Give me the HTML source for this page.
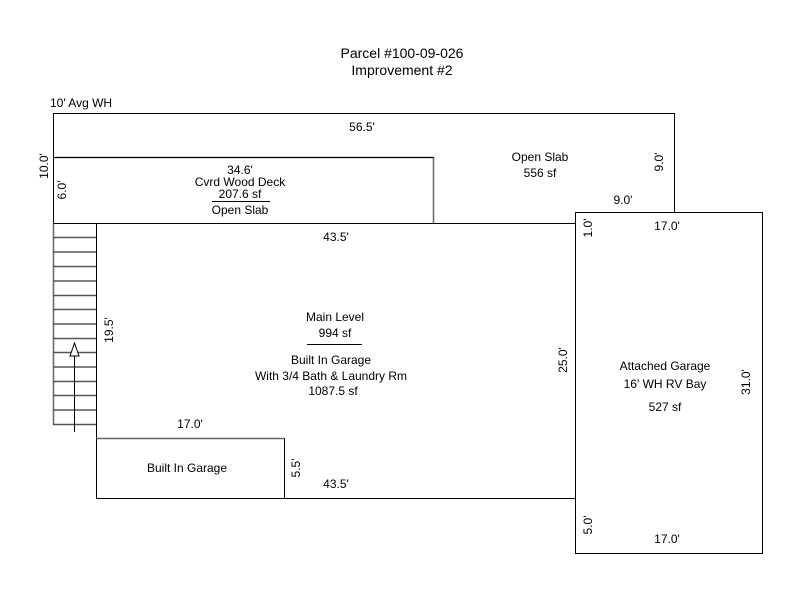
<!DOCTYPE html>
<html><head><style>body{margin:0;background:#fff}svg{display:block}text{font-family:"Liberation Sans",Arial,sans-serif;font-size:12px;fill:#000}</style></head><body>
<svg width="800" height="600" xmlns="http://www.w3.org/2000/svg">
<g fill="none" stroke="#000" stroke-width="1">
<path d="M53.5 223.5V113.5H674.5V212.5"/>
<path d="M53.5 157.5H433.5V223.5" stroke="#666" stroke-width="1.5"/>
<path d="M53.5 157.5H433.5"/>
<rect x="96.5" y="223.5" width="479" height="275"/>
<path d="M53.5 223.5H575.5"/>
<rect x="575.5" y="212.5" width="187" height="341"/>
<path d="M96.5 438.5H284.5V498.5"/>
<path d="M96.5 438.5H284.5" stroke="#666" stroke-width="1.5"/>
<path d="M53.5 223.5V425" stroke="#666" stroke-width="1.5"/>
<path d="M212 201.5H270"/>
<path d="M307 344.5H362"/>
</g>
<g stroke="#555" stroke-width="1.5">
<line x1="53" y1="237.5" x2="96" y2="237.5"/><line x1="53" y1="252" x2="96" y2="252"/><line x1="53" y1="266.5" x2="96" y2="266.5"/><line x1="53" y1="281" x2="96" y2="281"/><line x1="53" y1="295.5" x2="96" y2="295.5"/><line x1="53" y1="309.5" x2="96" y2="309.5"/><line x1="53" y1="324" x2="96" y2="324"/><line x1="53" y1="338.5" x2="96" y2="338.5"/><line x1="53" y1="352.5" x2="96" y2="352.5"/><line x1="53" y1="367" x2="96" y2="367"/><line x1="53" y1="381.5" x2="96" y2="381.5"/><line x1="53" y1="395.5" x2="96" y2="395.5"/><line x1="53" y1="410" x2="96" y2="410"/><line x1="53" y1="424.5" x2="96" y2="424.5"/>
</g>
<path d="M74.5 432V345" stroke="#000"/>
<path d="M74.5 343L70 356H79Z" fill="#fff" stroke="#000"/>
<g text-anchor="middle">
<text x="402" y="58" style="font-size:14px">Parcel #100-09-026</text>
<text x="402" y="75" style="font-size:14px">Improvement #2</text>
<text x="362" y="131">56.5'</text>
<text x="240" y="174">34.6'</text>
<text x="240" y="186">Cvrd Wood Deck</text>
<text x="240" y="198">207.6 sf</text>
<text x="240" y="214">Open Slab</text>
<text x="540" y="161">Open Slab</text>
<text x="540" y="177">556 sf</text>
<text x="623" y="204">9.0'</text>
<text x="336" y="241">43.5'</text>
<text x="667" y="230">17.0'</text>
<text x="335" y="321">Main Level</text>
<text x="335" y="337">994 sf</text>
<text x="331" y="364">Built In Garage</text>
<text x="331" y="380">With 3/4 Bath &amp; Laundry Rm</text>
<text x="333" y="395">1087.5 sf</text>
<text x="665" y="370">Attached Garage</text>
<text x="665" y="388">16' WH RV Bay</text>
<text x="665" y="411">527 sf</text>
<text x="190" y="428">17.0'</text>
<text x="187" y="472">Built In Garage</text>
<text x="336" y="488">43.5'</text>
<text x="667" y="543">17.0'</text>
</g>
<text x="50" y="107">10' Avg WH</text>
<g text-anchor="middle">
<text transform="translate(48,166) rotate(-90)">10.0'</text>
<text transform="translate(66,190) rotate(-90)">6.0'</text>
<text transform="translate(663,162) rotate(-90)">9.0'</text>
<text transform="translate(592,228) rotate(-90)">1.0'</text>
<text transform="translate(113,330) rotate(-90)">19.5'</text>
<text transform="translate(567,360) rotate(-90)">25.0'</text>
<text transform="translate(750,382) rotate(-90)">31.0'</text>
<text transform="translate(300,468) rotate(-90)">5.5'</text>
<text transform="translate(592,525) rotate(-90)">5.0'</text>
</g>
</svg>
</body></html>
